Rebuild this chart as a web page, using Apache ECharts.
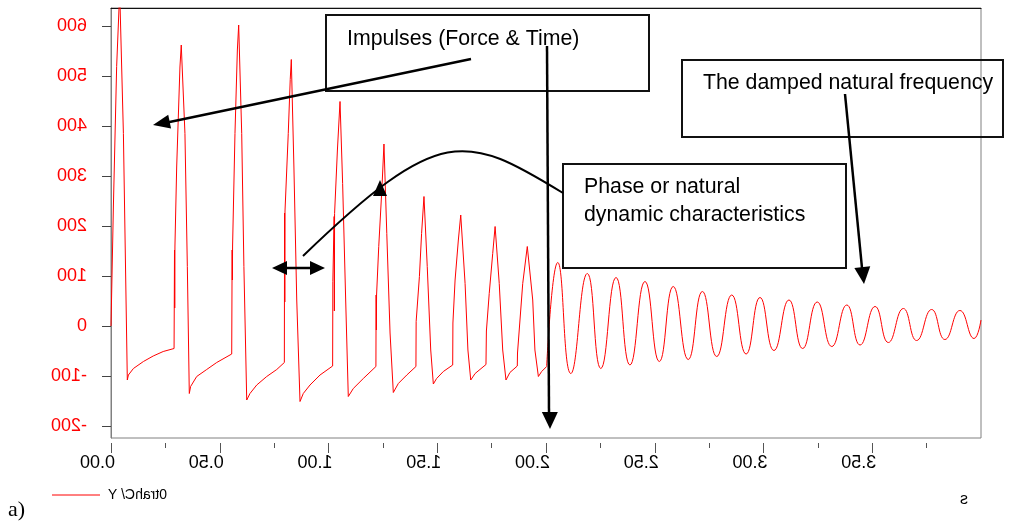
<!DOCTYPE html>
<html>
<head>
<meta charset="utf-8">
<script src="https://cdn.jsdelivr.net/npm/echarts@6/dist/echarts.min.js"></script>
<style>
html, body { margin: 0; padding: 0; background: #fff; }
#chart { width: 1011px; height: 521px; }
</style>
</head>
<body>
<div id="chart"></div>
<script>
// impulse train part of the response, [time s, value]
const impulseData = [
  [0, 0], [0.008, 0], [0.011, 240], [0.026, 519], [0.040, 670], [0.057, 385], [0.075, -108],
  [0.080, -98], [0.103, -85], [0.149, -71], [0.194, -60], [0.240, -51], [0.290, -45],
  [0.292, 152], [0.293, 36], [0.294, 160], [0.302, 318], [0.317, 518], [0.323, 562], [0.340, 385], [0.351, 119], [0.360, -135],
  [0.366, -121], [0.394, -101], [0.440, -87], [0.486, -73], [0.555, -56],
  [0.557, 152], [0.558, 92], [0.559, 160], [0.570, 385], [0.581, 552], [0.587, 602], [0.601, 385], [0.611, 119], [0.624, -148],
  [0.639, -135], [0.670, -118], [0.716, -101], [0.762, -87], [0.797, -73],
  [0.798, 226], [0.799, 48], [0.800, 230], [0.815, 385], [0.824, 493], [0.829, 533], [0.841, 318], [0.854, 52], [0.869, -151],
  [0.884, -135], [0.915, -118], [0.961, -98], [1.019, -80],
  [1.020, 89], [1.026, 219], [1.027, 30], [1.028, 225], [1.041, 352], [1.053, 449], [1.065, 285], [1.079, 52], [1.091, -141],
  [1.114, -125], [1.160, -105], [1.218, -81],
  [1.219, 62], [1.220, -8], [1.221, 62], [1.231, 159], [1.246, 279], [1.255, 364], [1.268, 185], [1.283, -14], [1.298, -133],
  [1.321, -115], [1.360, -98], [1.402, -81],
  [1.403, 9], [1.418, 99], [1.428, 185], [1.439, 259], [1.454, 119], [1.470, -48], [1.482, -116],
  [1.497, -105], [1.528, -91], [1.571, -78],
  [1.572, 6], [1.582, 92], [1.597, 172], [1.608, 222], [1.628, 85], [1.641, -48], [1.654, -108],
  [1.674, -95], [1.724, -77],
  [1.726, -10], [1.739, 65], [1.755, 145], [1.766, 199], [1.785, 85], [1.801, -48], [1.816, -108],
  [1.834, -93], [1.868, -80],
  [1.869, -54], [1.893, 85], [1.914, 159], [1.939, 52], [1.949, -48], [1.965, -101],
  [1.980, -91], [2.003, -81]
]
// free damped oscillation, peaks and troughs
const ringData = [
  [2.003, -81], [2.054, 127], [2.114, -95], [2.190, 105], [2.252, -85], [2.322, 97], [2.386, -78],
  [2.455, 89], [2.521, -71], [2.585, 79], [2.654, -67], [2.719, 69], [2.785, -61], [2.854, 62],
  [2.920, -56], [2.984, 57], [3.048, -49], [3.117, 52], [3.180, -45], [3.247, 48], [3.314, -41],
  [3.383, 42], [3.444, -38], [3.513, 39], [3.574, -33], [3.643, 35], [3.704, -29], [3.773, 33],
  [3.834, -27], [3.903, 31], [3.968, -25], [4.0, 12]
]
const xTickValues = [0, 0.5, 1, 1.5, 2, 2.5, 3, 3.5]
const xTickLabels = ['0.00', '0.50', '1.00', '1.50', '2.00', '2.50', '3.00', '3.50']
const xMinorValues = [0.25, 0.75, 1.25, 1.75, 2.25, 2.75, 3.25, 3.75]
const yTickValues = [-200, -100, 0, 100, 200, 300, 400, 500, 600]
const yTickLabels = ['-200', '-100', '0', '100', '200', '300', '400', '500', '600']
const legendText = '0trahC/ Y'
const xName = 's'

const chart = echarts.init(document.getElementById('chart'))
const gray = '#808080'
const sans = 'Liberation Sans'

chart.setOption({
  animation: false,
  grid: { left: 111, right: 30, top: 8, bottom: 83, show: true, borderColor: gray, borderWidth: 1 },
  xAxis: [
    {
      type: 'value', min: 0, max: 4, interval: 0.5, position: 'bottom', offset: 5,
      axisLine: { show: false, onZero: false },
      axisTick: { show: true, customValues: xTickValues, length: 10, lineStyle: { color: '#555' } },
      axisLabel: { show: false }, splitLine: { show: false }
    },
    {
      type: 'value', min: 0, max: 4, interval: 0.25, position: 'bottom', offset: 5,
      axisLine: { show: false, onZero: false },
      axisTick: { show: true, customValues: xMinorValues, length: 5, lineStyle: { color: '#555' } },
      axisLabel: { show: false }, splitLine: { show: false }
    },
    {
      type: 'value', min: 0, max: 4, position: 'top',
      axisLine: { show: true, onZero: false, lineStyle: { color: '#111' } },
      axisTick: { show: false }, axisLabel: { show: false }, splitLine: { show: false }
    }
  ],
  yAxis: {
    type: 'value', min: -224, max: 636,
    axisLine: { show: true, onZero: false, lineStyle: { color: gray } },
    axisTick: { show: true, customValues: yTickValues, length: 9, lineStyle: { color: '#444' } },
    axisLabel: { show: false }, splitLine: { show: false }
  },
  series: [
    {
      type: 'line', data: impulseData, showSymbol: false, clip: true,
      lineStyle: { color: '#ff0000', width: 1 }
    },
    {
      type: 'line', data: ringData, showSymbol: false, smooth: 0.5, clip: true,
      lineStyle: { color: '#ff0000', width: 1 }
    }
  ]
})

// mirrored text, drawn with its right edge at x
function mirrored(x, y, text, size, color, family) {
  return {
    type: 'text', x: x, y: y, scaleX: -1, z: 50, silent: true,
    style: {
      text: text, fill: color, fontSize: size, fontFamily: family || sans,
      align: 'left', verticalAlign: 'middle', textAlign: 'left', textVerticalAlign: 'middle'
    }
  }
}
function label(x, y, text) {
  return {
    type: 'text', x: x, y: y, z: 60, silent: true,
    style: { text: text, fill: '#000', fontSize: 21.3, fontFamily: sans, align: 'left', verticalAlign: 'middle', textAlign: 'left', textVerticalAlign: 'middle' }
  }
}
function box(x1, y1, x2, y2) {
  return { type: 'rect', z: 60, silent: true, shape: { x: x1, y: y1, width: x2 - x1, height: y2 - y1 }, style: { fill: 'none', stroke: '#111', lineWidth: 2 } }
}
function line(p1, p2, w) {
  return { type: 'line', z: 60, silent: true, shape: { x1: p1[0], y1: p1[1], x2: p2[0], y2: p2[1] }, style: { stroke: '#000', lineWidth: w || 2.5 } }
}
function head(tip, from, len, half) {
  const dx = tip[0] - from[0]
  const dy = tip[1] - from[1]
  const d = Math.hypot(dx, dy)
  const ux = dx / d
  const uy = dy / d
  const bx = tip[0] - ux * len
  const by = tip[1] - uy * len
  return {
    type: 'polygon', z: 61, silent: true,
    shape: { points: [tip, [bx - uy * half, by + ux * half], [bx + uy * half, by - ux * half]] },
    style: { fill: '#000' }
  }
}

const els = []
const labelY = chart.convertToPixel({ yAxisIndex: 0 }, -224) + 25
xTickValues.forEach((v, i) => {
  els.push(mirrored(chart.convertToPixel({ xAxisIndex: 0 }, v) + 4, labelY, xTickLabels[i], 18, '#000'))
})
yTickValues.forEach((v, i) => {
  els.push(mirrored(87, chart.convertToPixel({ yAxisIndex: 0 }, v), yTickLabels[i], 18, '#ff0000'))
})
els.push(mirrored(968, 500, xName, 16, '#000'))
// legend
els.push({ type: 'line', silent: true, shape: { x1: 52, y1: 495, x2: 100, y2: 495 }, style: { stroke: '#ff0000', lineWidth: 1 } })
els.push(mirrored(167, 495, legendText, 14, '#000'))
els.push({ type: 'text', x: 8, y: 510, silent: true, style: { text: 'a)', fill: '#000', fontSize: 22, fontFamily: 'Liberation Serif', verticalAlign: 'middle', textVerticalAlign: 'middle' } })

// annotations
els.push(box(326, 15, 649, 91))
els.push(label(347, 39, 'Impulses (Force & Time)'))
els.push(line([471, 59], [160, 124]))
els.push(head([153, 125], [471, 59], 17, 7))
els.push(line([547, 46], [549, 414]))
els.push(head([550, 429], [547, 46], 17, 8))

els.push(box(682, 60, 1003, 137))
els.push(label(703, 83, 'The damped natural frequency'))
els.push(line([845, 94], [862, 268]))
els.push(head([864, 284], [845, 94], 17, 8))

els.push(box(563, 164, 846, 268))
els.push(label(584, 187, 'Phase or natural'))
els.push(label(584, 215, 'dynamic characteristics'))
els.push({
  type: 'bezierCurve', z: 60, silent: true,
  shape: { x1: 303, y1: 256, cpx1: 440, cpy1: 124, cpx2: 465, cpy2: 133, x2: 563, y2: 193 },
  style: { stroke: '#000', lineWidth: 2, fill: 'none' }
})
els.push(head([380, 180], [380, 197], 16, 7))
els.push(line([284, 268], [313, 268]))
els.push(head([272, 268], [325, 268], 15, 7))
els.push(head([325, 268], [272, 268], 15, 7))

chart.setOption({ graphic: { elements: els } })
</script>
</body>
</html>
